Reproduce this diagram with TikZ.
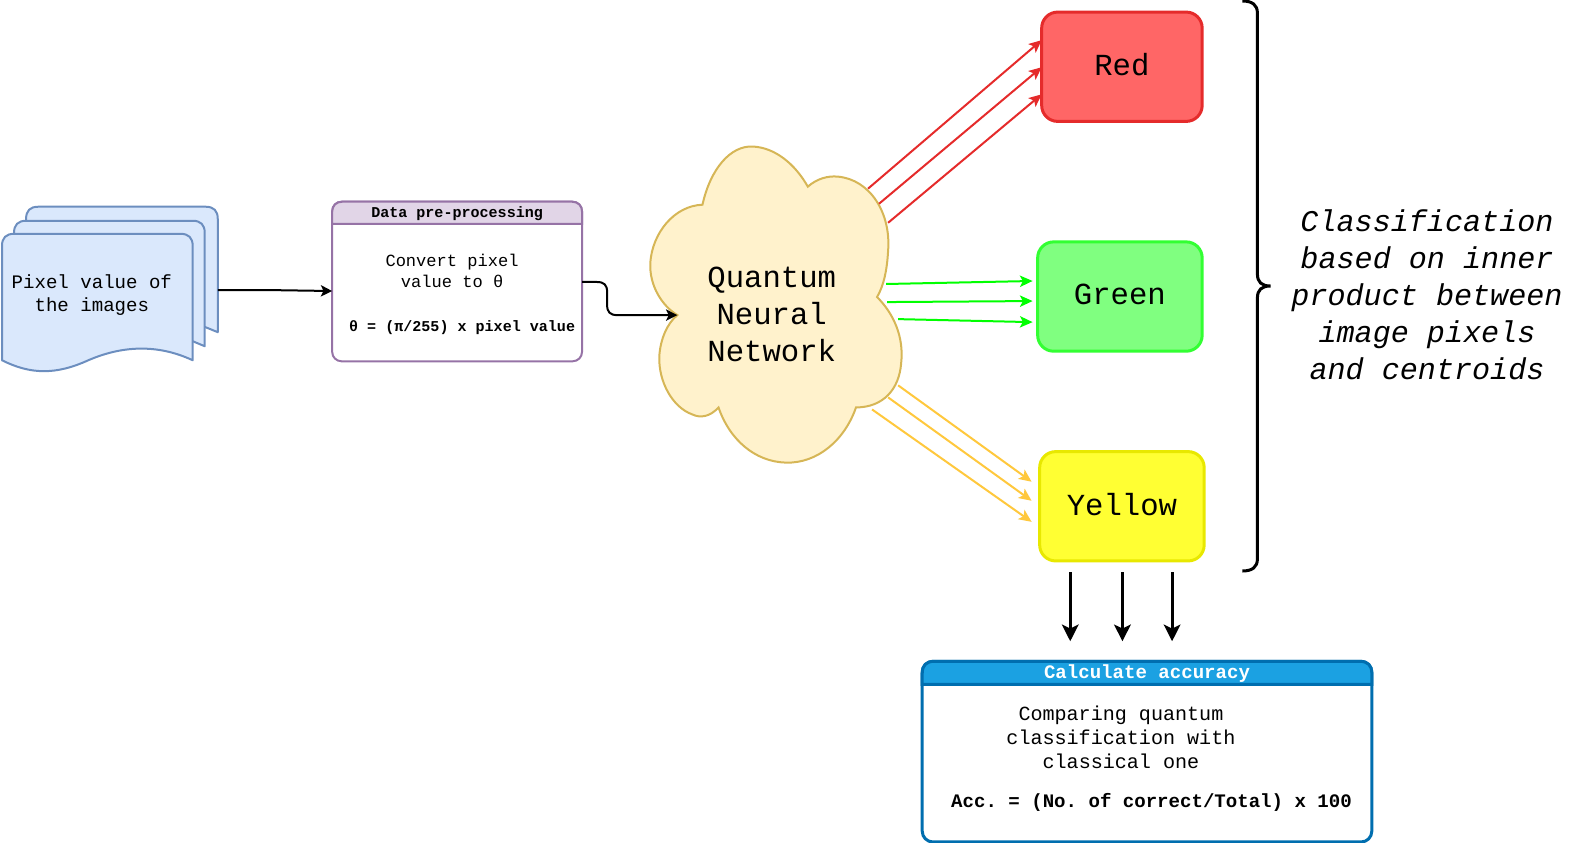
\documentclass[tikz,border=0pt]{standalone}
\usepackage{fontspec}
\setmainfont{Liberation Mono}
\frenchspacing
\usetikzlibrary{arrows.meta,calc}
\newcommand{\pxfont}[2]{\fontsize{\dimexpr#1pt*753/1000\relax}{\dimexpr#2pt*753/1000\relax}\selectfont}
\definecolor{docfill}{HTML}{DAE8FC}\definecolor{docline}{HTML}{6C8EBF}
\definecolor{prefill}{HTML}{E1D5E7}\definecolor{preline}{HTML}{9673A6}
\definecolor{cloudfill}{HTML}{FFF2CC}\definecolor{cloudline}{HTML}{D6B656}
\definecolor{redfill}{HTML}{FF6666}\definecolor{redline}{HTML}{E52B2B}
\definecolor{greenfill}{HTML}{80FF80}\definecolor{greenline}{HTML}{33FF33}
\definecolor{yellowfill}{HTML}{FFFF33}\definecolor{yellowline}{HTML}{E8E800}
\definecolor{accfill}{HTML}{1BA1E2}\definecolor{accline}{HTML}{006EAF}
\definecolor{amber}{HTML}{FFC83D}\definecolor{lime}{HTML}{00FF00}
\tikzset{
  lbl/.style={inner sep=0pt,align=center,text=black},
  sheet/.style={draw=docline,fill=docfill,line width=1.5pt,line join=round},
  classbox/.style={rounded corners=12pt,line width=2.25pt,inner sep=0pt},
  thin arrow/.style={-{Stealth[length=9.5pt,width=8.5pt,inset=2.2pt]},line width=1.5pt},
  thick arrow/.style={-{Stealth[length=12.5pt,width=12.5pt,inset=3pt]},line width=2.25pt},
  flow arrow/.style={-{Stealth[length=8.5pt,width=8.5pt,inset=2pt]},line width=1.5pt,black},
}
\begin{document}
\begin{tikzpicture}[x=0.7527pt,y=-0.7527pt]
\useasboundingbox (0,0) rectangle (1568.5,840);
% stacked documents
\path[sheet] (26,218) .. controls (26,210) and (30,206) .. (38,206) -- (205,206) .. controls (213,206) and (217,210) .. (217,218) -- (217,331) -- (190,320) -- (26,320) -- cycle;
\path[sheet] (14,232) .. controls (14,224) and (18,220) .. (26,220) -- (192,220) .. controls (200,220) and (204,224) .. (204,232) -- (204,345) -- (180,335) -- (14,335) -- cycle;
\path[sheet] (2,245) .. controls (2,237) and (6,233) .. (14,233) -- (180,233) .. controls (188,233) and (192,237) .. (192,245) -- (192,359) .. controls (160,344) and (125,343) .. (88,359) .. controls (55,374) and (30,373) .. (2,359) -- cycle;
\node[lbl,font=\pxfont{19}{23}] (docs) at (91.5,294) {Pixel value of\\the images};
% preprocessing box
\node[draw=preline,line width=1.5pt,rounded corners=7pt,minimum width=187.4pt,minimum height=119.7pt,inner sep=0pt] (pre) at (455.5,280.5) {};
\path[draw=preline,fill=prefill,line width=1.5pt] (331,223) -- (331,211) .. controls (331,205) and (335,201) .. (341,201) -- (570,201) .. controls (576,201) and (580,205) .. (580,211) -- (580,223) -- cycle;
\node[lbl,font=\pxfont{15}{18}\bfseries] (pretitle) at (455.5,213) {Data pre-processing};
\node[lbl,font=\pxfont{17}{21}] (pretext) at (450.5,269.5) {Convert pixel\\value to θ};
\node[lbl,font=\pxfont{15}{18}\bfseries] (preform) at (460.5,326.5) {θ = (π/255) x pixel value};
% cloud
\path[draw=cloudline,fill=cloudfill,line width=1.5pt]
 (700,204) .. controls (708,168) and (728,145) .. (750,146)
 .. controls (772,147) and (792,163) .. (805,186)
 .. controls (814,178) and (825,175) .. (835,176)
 .. controls (867,179) and (888,212) .. (885,250)
 .. controls (884,268) and (881,284) .. (874,296)
 .. controls (890,312) and (901,335) .. (898,362)
 .. controls (896,388) and (880,406) .. (853,406)
 .. controls (842,438) and (815,462) .. (783,461)
 .. controls (752,460) and (727,438) .. (716,406)
 .. controls (708,415) and (698,417) .. (690,413)
 .. controls (670,406) and (656,380) .. (657,355)
 .. controls (658,338) and (665,322) .. (675,314)
 .. controls (660,305) and (647,285) .. (648,262)
 .. controls (650,232) and (672,205) .. (700,204) -- cycle;
\node[lbl,font=\pxfont{30.5}{37}] (qnn) at (769,313.5) {Quantum\\Neural\\Network};
% class boxes
\node[classbox,draw=redline,fill=redfill,minimum width=120.4pt,minimum height=82pt] (red) at (1118,66.5) {};
\node[lbl,font=\pxfont{30.5}{37}] (redt) at (1118,64) {Red};
\node[classbox,draw=greenline,fill=greenfill,minimum width=123.4pt,minimum height=82pt] (green) at (1116,295.5) {};
\node[lbl,font=\pxfont{30.5}{37}] (greent) at (1116,293.5) {Green};
\node[classbox,draw=yellowline,fill=yellowfill,minimum width=123.4pt,minimum height=82pt] (yellow) at (1118,504.5) {};
\node[lbl,font=\pxfont{30.5}{37}] (yellowt) at (1118,503) {Yellow};
% accuracy box
\node[draw=accline,line width=2.25pt,rounded corners=8pt,minimum width=337.2pt,minimum height=135.5pt,inner sep=0pt] (acc) at (1143,749) {};
\path[draw=accline,fill=accfill,line width=2.25pt] (919,682) -- (919,671) .. controls (919,663) and (923,659) .. (931,659) -- (1355,659) .. controls (1363,659) and (1367,663) .. (1367,671) -- (1367,682) -- cycle;
\node[lbl,font=\pxfont{19}{23}\bfseries,text=white] (acct) at (1143,671.5) {Calculate accuracy};
\node[lbl,font=\pxfont{20}{24}] (acctext) at (1117,735) {Comparing quantum\\classification with\\classical one};
\node[lbl,font=\pxfont{19}{23}\bfseries] (accform) at (1147.5,800) {Acc. = (No. of correct/Total) x 100};
% brace
\coordinate (bracetop) at (1238,1);
\coordinate (bracebot) at (1238,569);
\coordinate (bracetip) at (1266,285);
\draw[line width=2.25pt,black] (bracetop) .. controls (1248,1) and (1253,5) .. (1253,13) -- (1253,273) .. controls (1253,281) and (1257,285) .. (bracetip) .. controls (1257,285) and (1253,289) .. (1253,297) -- (1253,557) .. controls (1253,565) and (1248,569) .. (bracebot);
\node[lbl,font=\pxfont{30}{36.8}\itshape] (classif) at (1422,294) {Classification\\based on inner\\product between\\image pixels\\and centroids};
% named free ends
\coordinate (d0) at (217,289);
\coordinate (p0) at (331,290);
\coordinate (p1) at (580,281);
\coordinate (c0) at (675,314);
\coordinate (r1) at (865,188); \coordinate (r1e) at (1038,40);
\coordinate (r2) at (876,203); \coordinate (r2e) at (1038,67);
\coordinate (r3) at (885,222); \coordinate (r3e) at (1038,94);
\coordinate (g1) at (883,283); \coordinate (g1e) at (1029,280);
\coordinate (g2) at (884,301); \coordinate (g2e) at (1029,300);
\coordinate (g3) at (895,318); \coordinate (g3e) at (1029,321);
\coordinate (y1) at (895,384); \coordinate (y1e) at (1028,480);
\coordinate (y2) at (885,396); \coordinate (y2e) at (1028,499);
\coordinate (y3) at (869,408); \coordinate (y3e) at (1028,520);
\coordinate (a1) at (1066.5,570); \coordinate (a1e) at (1066.5,639);
\coordinate (a2) at (1118.5,570); \coordinate (a2e) at (1118.5,639);
\coordinate (a3) at (1168,570); \coordinate (a3e) at (1168,639);
% connectors
\draw[flow arrow] (d0) -- (265,289) -- (p0);
\draw[flow arrow] (p1) -- (595,281) .. controls (602,281) and (605,284) .. (605,291) -- (605,304) .. controls (605,311) and (608,314) .. (615,314) -- (c0);
\foreach \s in {1,2,3} {
  \draw[thin arrow,draw=redline,fill=redline] (r\s) -- (r\s e);
  \draw[thin arrow,draw=lime,fill=lime] (g\s) -- (g\s e);
  \draw[thin arrow,draw=amber,fill=amber] (y\s) -- (y\s e);
  \draw[thick arrow,black] (a\s) -- (a\s e);
}
\end{tikzpicture}
\end{document}
